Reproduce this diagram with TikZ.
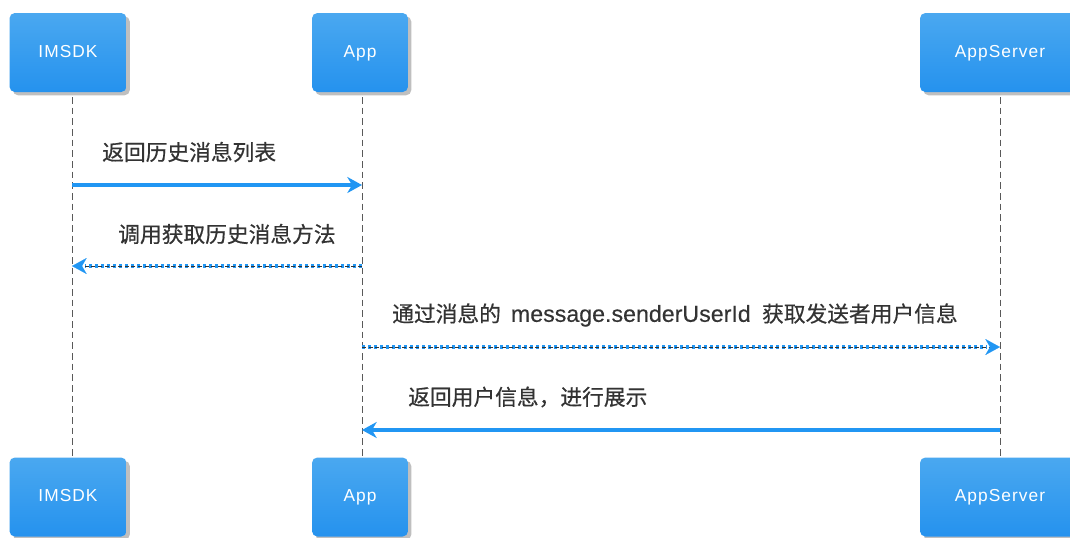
\documentclass[tikz,border=0pt]{standalone}
\usepackage{fontspec}
\setmainfont{Noto Sans CJK SC}
\newfontfamily\msgfont[FakeBold=0.6]{Noto Sans CJK SC}
\newfontfamily\latinfont[FakeBold=0.3]{Liberation Sans}
\newfontfamily\boxfont[LetterSpace=6]{Liberation Sans}
\usetikzlibrary{arrows.meta,shadows}
\definecolor{msgblue}{HTML}{2196F3}
\definecolor{boxtop}{HTML}{4AA8F0}
\definecolor{boxbot}{HTML}{2592EE}
\definecolor{txt}{HTML}{333333}
\tikzset{
  actor/.style={rounded corners=4pt, top color=boxtop, bottom color=boxbot, draw=none,
    text=white, font=\boxfont\fontsize{13pt}{15pt}\selectfont, minimum height=59.25pt,
    text depth=0pt, text height=7.2pt, inner ysep=0pt,
    drop shadow={shadow xshift=2.5pt, shadow yshift=-2.5pt, opacity=0.25, fill=black}},
  lifeline/.style={draw=black!65, line width=0.7pt, dash pattern=on 5pt off 3pt},
  solidmsg/.style={draw=msgblue, line width=3pt, -{Stealth[length=11pt,width=12pt,inset=3.5pt]}},
  dotmsg/.style={draw=msgblue, line width=3pt, dash pattern=on 2.6pt off 1.9pt},
  dotcore/.style={draw=black!80, line width=0.5pt, dash pattern=on 3pt off 2pt},
  tiponly/.style={draw=msgblue, line width=0.1pt, -{Stealth[length=11pt,width=12pt,inset=3.5pt]}},
  msglabel/.style={anchor=west, text=txt, font=\msgfont\fontsize{16.3pt}{19pt}\selectfont, inner sep=0pt}
}
\begin{document}
\begin{tikzpicture}[x=0.75pt,y=-0.75pt]
\useasboundingbox (0,0) rectangle (1070,537);
% actors
\node[actor, minimum width=87.75pt] (imTop) at (68,52.5) {IMSDK};
\node[actor, minimum width=72pt] (appTop) at (360,52.5) {App};
\node[actor, minimum width=120pt] (srvTop) at (1000,52.5) {AppServer};
% lifelines coordinates
\coordinate (imA) at (72,97);
\coordinate (imB) at (72,456);
\coordinate (appA) at (362,97);
\coordinate (appB) at (362,456);
\coordinate (srvA) at (1000,97);
\coordinate (srvB) at (1000,456);
\draw[lifeline] (imA) -- (imB);
\draw[lifeline] (appA) -- (appB);
\draw[lifeline] (srvA) -- (srvB);
\node[actor, minimum width=87.75pt] (imBot) at (68,497) {IMSDK};
\node[actor, minimum width=72pt] (appBot) at (360,497) {App};
\node[actor, minimum width=120pt] (srvBot) at (1000,497) {AppServer};
% message endpoints
\coordinate (m1s) at (72,185); \coordinate (m1e) at (362,185);
\coordinate (m2s) at (362,266); \coordinate (m2e) at (72,266);
\coordinate (m3s) at (362,347); \coordinate (m3e) at (1000,347);
\coordinate (m4s) at (1000,430); \coordinate (m4e) at (362,430);
% message 1
\draw[solidmsg] (m1s) -- (m1e);
\node[msglabel] (l1) at (102,152) {返回历史消息列表};
% message 2
\draw[dotmsg] (m2s) -- ([xshift=10pt]m2e);
\draw[dotcore] (m2s) -- ([xshift=6pt]m2e);
\draw[tiponly] ([xshift=2pt]m2e) -- (m2e);
\node[msglabel] (l2) at (118,234) {调用获取历史消息方法};
% message 3
\draw[dotmsg] (m3s) -- ([xshift=-10pt]m3e);
\draw[dotcore] (m3s) -- ([xshift=-6pt]m3e);
\draw[tiponly] ([xshift=-2pt]m3e) -- (m3e);
\node[msglabel] (l3) at (392,315) {通过消息的\hspace{7.5pt}{\latinfont\fontsize{17.4pt}{19pt}\selectfont message.senderUserId}\hspace{8.5pt}获取发送者用户信息};
% message 4
\draw[solidmsg] (m4s) -- (m4e);
\node[msglabel] (l4) at (408,397) {返回用户信息，进行展示};
\end{tikzpicture}
\end{document}
